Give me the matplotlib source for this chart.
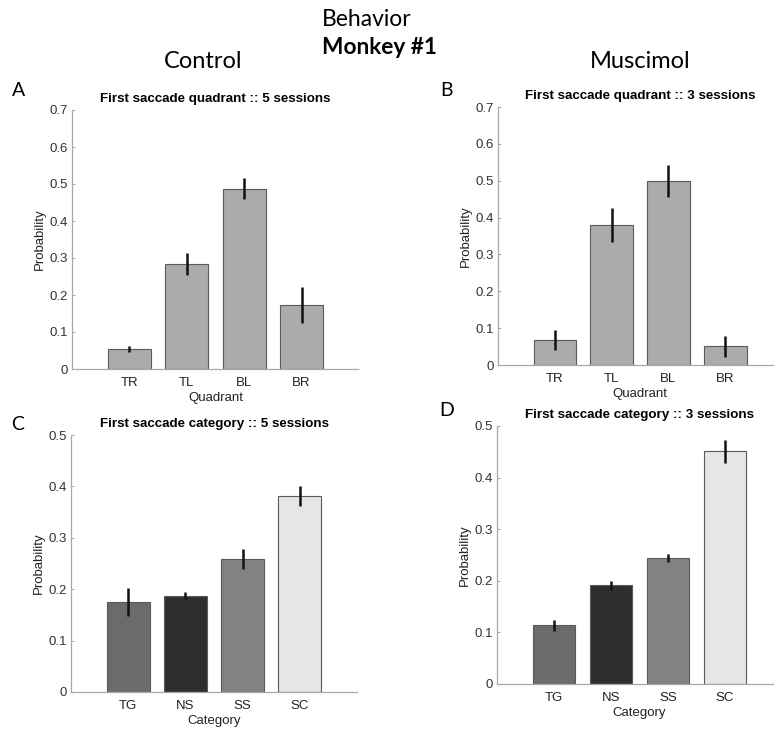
import matplotlib
matplotlib.use("Agg")
import matplotlib.pyplot as plt
import numpy as np

# ---- data ----
quadrants = ["TR", "TL", "BL", "BR"]
categories = ["TG", "NS", "SS", "SC"]

control_quadrant = [0.053, 0.284, 0.487, 0.173]
control_quadrant_err = [0.008, 0.030, 0.028, 0.049]
muscimol_quadrant = [0.067, 0.380, 0.500, 0.051]
muscimol_quadrant_err = [0.027, 0.045, 0.043, 0.028]

control_category = [0.175, 0.187, 0.259, 0.381]
control_category_err = [0.027, 0.007, 0.019, 0.020]
muscimol_category = [0.114, 0.191, 0.244, 0.451]
muscimol_category_err = [0.011, 0.008, 0.007, 0.022]

quadrant_yticks = [0, 0.1, 0.2, 0.3, 0.4, 0.5, 0.6, 0.7]
category_yticks = [0, 0.1, 0.2, 0.3, 0.4, 0.5]

W, H = 774, 733
fig = plt.figure(figsize=(W / 100, H / 100), dpi=100)
fig.patch.set_facecolor("white")

AX_FONT = ["Liberation Sans", "DejaVu Sans"]
HEAD_FONT = ["Lato", "DejaVu Sans"]

quad_color = "#ababab"
cat_colors = ["#6b6b6b", "#2e2e2e", "#828282", "#e6e6e6"]


def px_axes(left, top, right, bottom):
    return fig.add_axes([left / W, 1 - bottom / H, (right - left) / W, (bottom - top) / H])


def draw_panel(ax, labels, values, errs, colors, yticks, ymax, title, xlabel, width_px):
    x = np.arange(1, len(labels) + 1)
    ax.bar(x, values, width=0.75, color=colors, edgecolor="#5a5a5a", linewidth=0.8, zorder=2)
    ax.errorbar(x, values, yerr=errs, fmt="none", ecolor="#111111", elinewidth=1.8,
                capsize=0, zorder=3)
    ax.set_xlim(0, 5)
    ax.set_ylim(0, ymax)
    ax.set_xticks(x)
    ax.set_xticklabels(labels)
    ax.set_yticks(yticks)
    ax.set_yticklabels(["0" if t == 0 else f"{t:.1f}" for t in yticks])
    for side in ("top", "right"):
        ax.spines[side].set_visible(False)
    for side in ("left", "bottom"):
        ax.spines[side].set_linestyle((0, (1, 1)))
        ax.spines[side].set_color("#a8a8a8")
        ax.spines[side].set_linewidth(0.9)
    ax.tick_params(axis="y", direction="in", length=2.5, width=0.6, color="#9a9a9a",
                   labelsize=9.5, labelcolor="#333333", pad=3)
    ax.tick_params(axis="x", length=0, labelsize=9.5, labelcolor="#222222", pad=6)
    for lab in ax.get_xticklabels() + ax.get_yticklabels():
        lab.set_family(AX_FONT)
    ax.set_title(title, fontsize=9.6, fontweight="bold", family=AX_FONT, pad=6)
    ax.set_xlabel(xlabel, fontsize=9.5, family=AX_FONT, color="#222222", labelpad=2)
    ax.set_ylabel("Probability", fontsize=9.5, family=AX_FONT, color="#222222")
    ax.yaxis.set_label_coords(-26 / width_px, 0.5)


axA = px_axes(72, 110, 359, 369)
draw_panel(axA, quadrants, control_quadrant, control_quadrant_err, quad_color,
           quadrant_yticks, 0.7, "First saccade quadrant :: 5 sessions", "Quadrant", 287)

axB = px_axes(498, 107, 782, 365)
draw_panel(axB, quadrants, muscimol_quadrant, muscimol_quadrant_err, quad_color,
           quadrant_yticks, 0.7, "First saccade quadrant :: 3 sessions", "Quadrant", 284)

axC = px_axes(71, 435, 357, 692)
draw_panel(axC, categories, control_category, control_category_err, cat_colors,
           category_yticks, 0.5, "First saccade category :: 5 sessions", "Category", 286)

axD = px_axes(497, 426, 782, 684)
draw_panel(axD, categories, muscimol_category, muscimol_category_err, cat_colors,
           category_yticks, 0.5, "First saccade category :: 3 sessions", "Category", 285)

# headings
def ftext(xp, yp, s, **kw):
    fig.text(xp / W, 1 - yp / H, s, family=HEAD_FONT, **kw)

ftext(322, 19, "Behavior", fontsize=16.5, ha="left", va="center")
ftext(322, 47, "Monkey #1", fontsize=16.3, fontweight="bold", ha="left", va="center")
ftext(203, 62, "Control", fontsize=17, ha="center", va="center")
ftext(640, 62, "Muscimol", fontsize=17, ha="center", va="center")

for lx, ly, letter in [(19, 91, "A"), (447, 90, "B"), (18, 424, "C"), (447, 410, "D")]:
    ftext(lx, ly, letter, fontsize=14, ha="center", va="center")

fig.savefig("out.png", dpi=100)
